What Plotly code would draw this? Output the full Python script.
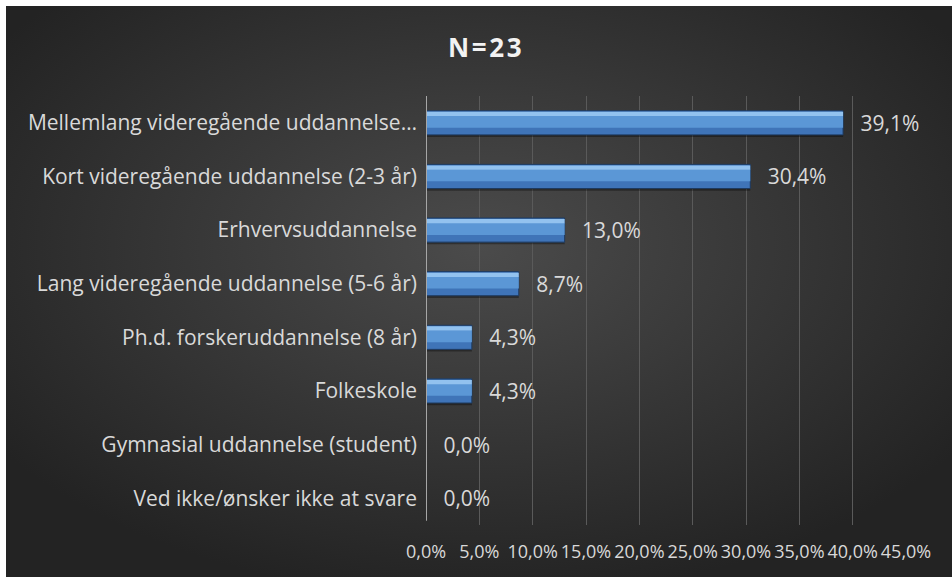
import base64
import plotly.graph_objects as go

# Survey answers: highest completed education (share of respondents, %)
categories = [
    "Mellemlang videregående uddannelse…",
    "Kort videregående uddannelse (2-3 år)",
    "Erhvervsuddannelse",
    "Lang videregående uddannelse (5-6 år)",
    "Ph.d. forskeruddannelse (8 år)",
    "Folkeskole",
    "Gymnasial uddannelse (student)",
    "Ved ikke/ønsker ikke at svare",
]
shares = [39.1, 30.4, 13.0, 8.7, 4.3, 4.3, 0.0, 0.0]
tick_values = [0, 5, 10, 15, 20, 25, 30, 35, 40, 45]
tick_labels = [f"{v:.1f}%".replace(".", ",") for v in tick_values]
title_text = "N\u200a=\u200a2\u200a3"

TEXT = "#d9d9d9"
FONT = "Open Sans"

# Dark radial-gradient backdrop as an inline SVG
svg = (
    '<svg xmlns="http://www.w3.org/2000/svg" width="946" height="571" '
    'viewBox="0 0 946 571" preserveAspectRatio="none">'
    '<defs><radialGradient id="g" cx="50%" cy="42%" r="62%">'
    '<stop offset="0" stop-color="#4b4b4b"/>'
    '<stop offset="1" stop-color="#232323"/>'
    '</radialGradient></defs>'
    '<rect width="946" height="571" fill="url(#g)"/></svg>'
)
bg_src = "data:image/svg+xml;base64," + base64.b64encode(svg.encode()).decode()

fig = go.Figure()

BAR_W = 0.45
# soft drop shadow
fig.add_trace(go.Bar(
    y=categories, x=shares, orientation="h", width=BAR_W, offset=-BAR_W / 2 + 0.04,
    marker=dict(color="rgba(0,0,0,0.35)", line=dict(width=0)),
    hoverinfo="skip", showlegend=False,
))
# main bar body
fig.add_trace(go.Bar(
    y=categories, x=shares, orientation="h", width=BAR_W, offset=-BAR_W / 2,
    marker=dict(color="#3f74b8", line=dict(color="#1e3a5f", width=1)),
    texttemplate="\u00a0\u00a0\u2009%{x:.1f}%", textposition="outside",
    constraintext="none",
    textfont=dict(color=TEXT, size=21, family=FONT),
    cliponaxis=False, showlegend=False,
))
# mid tone
fig.add_trace(go.Bar(
    y=categories, x=shares, orientation="h", width=0.22, offset=-0.13,
    marker=dict(color="#5b97d6", line=dict(width=0)),
    hoverinfo="skip", showlegend=False,
))
# top highlight
fig.add_trace(go.Bar(
    y=categories, x=shares, orientation="h", width=0.08, offset=-0.205,
    marker=dict(color="#92c2ef", line=dict(width=0)),
    hoverinfo="skip", showlegend=False,
))

fig.update_layout(
    width=952, height=577,
    margin=dict(l=426, r=46, t=96, b=52),
    paper_bgcolor="white",
    plot_bgcolor="rgba(0,0,0,0)",
    barmode="overlay",
    separators=",.",
    font=dict(family=FONT, color=TEXT, size=19),
    images=[dict(
        source=bg_src, xref="paper", yref="paper",
        x=(6 - 426) / 480, y=(525 - 6) / 429,
        sizex=946 / 480, sizey=571 / 429,
        xanchor="left", yanchor="top", sizing="stretch", layer="below",
    )],
    annotations=[dict(
        text="<b>" + title_text + "</b>", xref="paper", yref="paper",
        x=(485 - 426) / 480, y=(525 - 47) / 429, xanchor="center", yanchor="middle",
        showarrow=False, font=dict(family=FONT, size=26, color="#f2f2f2"),
    )],
    xaxis=dict(
        range=[0, 45], tickmode="array", tickvals=tick_values, ticktext=tick_labels,
        tickangle=0, showgrid=True, gridcolor="#5a5a5a", gridwidth=1,
        zeroline=False, showline=False, ticks="", ticklabelstandoff=14,
        tickfont=dict(family=FONT, size=18, color=TEXT),
        fixedrange=True,
    ),
    yaxis=dict(
        autorange="reversed", showgrid=False, zeroline=False,
        showline=False, ticks="", ticklabelstandoff=8,
        tickfont=dict(family=FONT, size=21, color=TEXT),
        fixedrange=True,
    ),
    shapes=[dict(
        type="line", xref="x", yref="paper", x0=0, x1=0, y0=0.01, y1=1,
        line=dict(color="#a6a6a6", width=2),
    )],
)

fig.write_html("out.html")
